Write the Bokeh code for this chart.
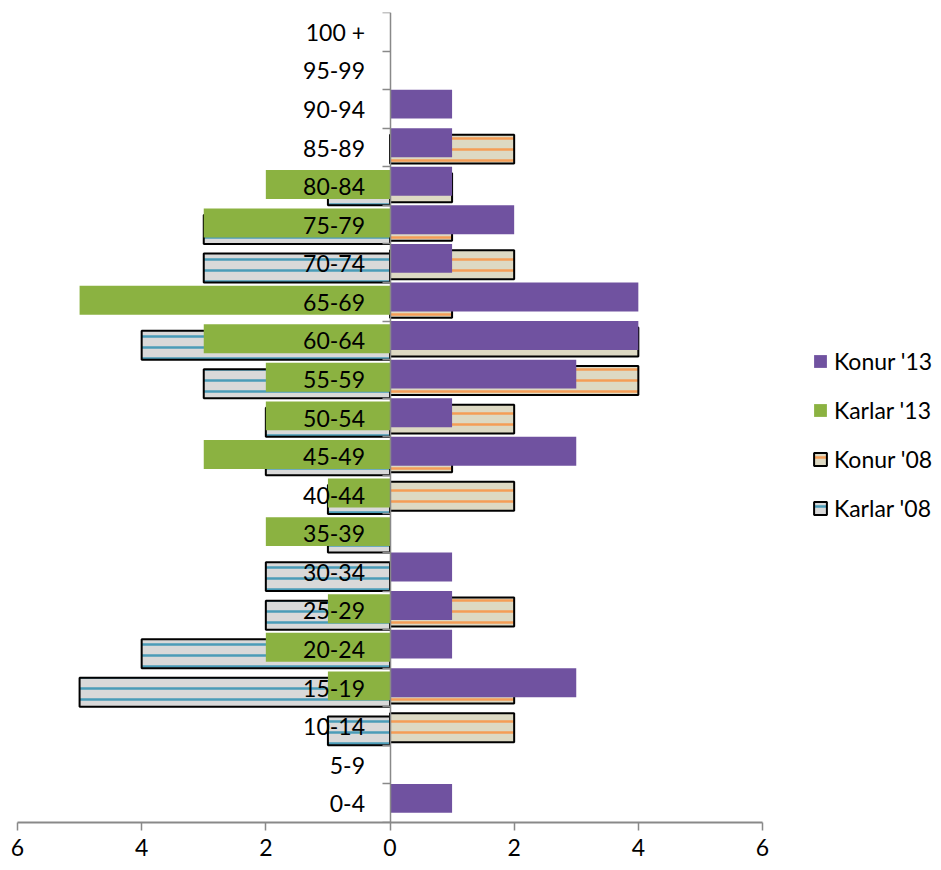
from bokeh.plotting import figure
from bokeh.models import FixedTicker, Legend, Range1d, ColumnDataSource
from bokeh.embed import file_html
from bokeh.resources import INLINE

categories = ["0-4", "5-9", "10-14", "15-19", "20-24", "25-29", "30-34", "35-39",
              "40-44", "45-49", "50-54", "55-59", "60-64", "65-69", "70-74",
              "75-79", "80-84", "85-89", "90-94", "95-99", "100 +"]
karlar_08 = [0, 0, 1, 5, 4, 2, 2, 1, 1, 2, 2, 3, 4, 0, 3, 3, 1, 0, 0, 0, 0]
konur_08 = [0, 0, 2, 2, 0, 2, 0, 0, 2, 1, 2, 4, 4, 1, 2, 1, 1, 2, 0, 0, 0]
karlar_13 = [0, 0, 0, 1, 2, 1, 0, 2, 1, 3, 2, 2, 3, 5, 0, 3, 2, 0, 0, 0, 0]
konur_13 = [1, 0, 0, 3, 1, 1, 1, 0, 0, 3, 1, 3, 4, 4, 1, 2, 1, 1, 1, 0, 0]
x_ticks = [-6, -4, -2, 0, 2, 4, 6]

FONT = "Lato"
BAR_H = 0.75
AXIS_GREY = "#898989"


def make_source(values, offset, left_side):
    idx = [i for i, v in enumerate(values) if v != 0]
    return ColumnDataSource(dict(
        y=[i + offset for i in idx],
        left=[-values[i] if left_side else 0 for i in idx],
        right=[0 if left_side else values[i] for i in idx],
    ))


p = figure(frame_width=745, frame_height=810,
           x_range=Range1d(-6, 6), y_range=Range1d(-0.5, len(categories) - 0.5),
           output_backend="svg", toolbar_location=None,
           min_border_left=17, min_border_top=12, min_border_right=171,
           min_border_bottom=46)
p.outline_line_color = None
p.xgrid.visible = False
p.ygrid.visible = False

r1 = p.hbar(y="y", left="left", right="right", height=BAR_H,
            source=make_source(karlar_08, -0.125, True),
            fill_color="#D9D9D9", hatch_pattern="horizontal_line",
            hatch_color="#4A9CB8", hatch_scale=11, hatch_weight=2.5,
            line_color="black", line_width=2)
r2 = p.hbar(y="y", left="left", right="right", height=BAR_H,
            source=make_source(konur_08, -0.0417, False),
            fill_color="#DDD9C3", hatch_pattern="horizontal_line",
            hatch_color="#F59D56", hatch_scale=11, hatch_weight=2.5,
            line_color="black", line_width=2)
r3 = p.hbar(y="y", left="left", right="right", height=BAR_H,
            source=make_source(karlar_13, 0.0417, True),
            fill_color="#8BB241", line_color=None)
r4 = p.hbar(y="y", left="left", right="right", height=BAR_H,
            source=make_source(konur_13, 0.125, False),
            fill_color="#7052A0", line_color=None)

# y axis (categories) at x = 0
yax = p.yaxis[0]
yax.ticker = FixedTicker(ticks=list(range(len(categories))),
                         minor_ticks=[i - 0.5 for i in range(len(categories) + 1)])
yax.major_label_overrides = {i: c for i, c in enumerate(categories)}
yax.fixed_location = 0
yax.major_tick_line_color = None
yax.major_tick_out = 0
yax.major_tick_in = 0
yax.minor_tick_out = 8
yax.minor_tick_in = 0
yax.minor_tick_line_color = AXIS_GREY
yax.minor_tick_line_width = 1.5
yax.axis_line_color = AXIS_GREY
yax.axis_line_width = 1.5
yax.major_label_standoff = 17
yax.major_label_text_font = FONT
yax.major_label_text_font_size = "23px"
yax.major_label_text_color = "black"

xax = p.xaxis[0]
xax.ticker = FixedTicker(ticks=x_ticks)
xax.major_label_overrides = {t: str(abs(t)) for t in x_ticks}
xax.major_tick_out = 8
xax.major_tick_in = 0
xax.minor_tick_line_color = None
xax.major_tick_line_color = AXIS_GREY
xax.major_tick_line_width = 1.5
xax.axis_line_color = AXIS_GREY
xax.axis_line_width = 2
xax.major_label_standoff = 8
xax.major_label_text_font = FONT
xax.major_label_text_font_size = "23px"
xax.major_label_text_color = "black"

legend = Legend(items=[("Konur '13", [r4]), ("Karlar '13", [r3]),
                       ("Konur '08", [r2]), ("Karlar '08", [r1])],
                location=(50, 300), orientation="vertical",
                glyph_width=16, glyph_height=16, label_standoff=6,
                label_height=20, spacing=21, padding=0, margin=0,
                border_line_color=None, background_fill_alpha=0,
                label_text_font=FONT, label_text_font_size="23px",
                label_text_color="black")
p.add_layout(legend, "right")

open("out.html", "w").write(file_html(p, INLINE))
